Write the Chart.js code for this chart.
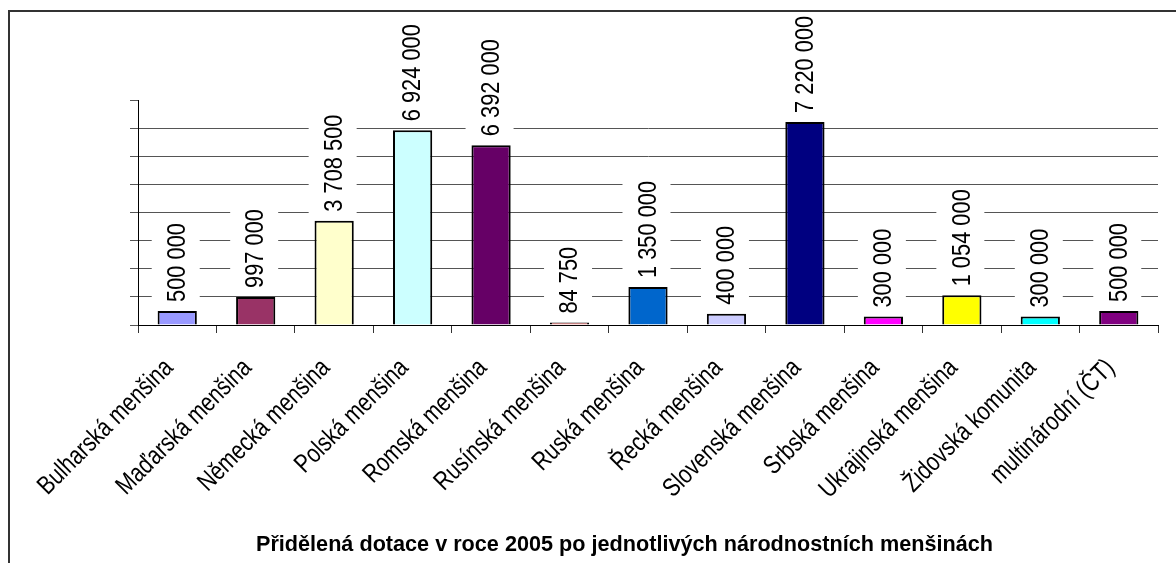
<!DOCTYPE html>
<html lang="cs">
<head>
  <meta charset="UTF-8" />
  <title>Přidělená dotace 2005</title>
  <script src="https://cdn.jsdelivr.net/npm/chart.js"></script>
  <style>
    html, body { margin: 0; padding: 0; background: #fff; }
    .wrap { position: relative; width: 1176px; height: 563px; }
  </style>
</head>
<body>
  <div class="wrap"><canvas id="chart" width="1176" height="563"></canvas></div>

  <script>
    const categories = [
      'Bulharská menšina', 'Maďarská menšina', 'Německá menšina', 'Polská menšina',
      'Romská menšina', 'Rusínská menšina', 'Ruská menšina', 'Řecká menšina',
      'Slovenská menšina', 'Srbská menšina', 'Ukrajinská menšina', 'Židovská komunita',
      'multinárodní (ČT)'
    ];
    const values = [500000, 997000, 3708500, 6924000, 6392000, 84750, 1350000, 400000, 7220000, 300000, 1054000, 300000, 500000];
    const barColors = ['#9999ff', '#993366', '#ffffcc', '#ccffff', '#660066', '#ff8080', '#0066cc', '#ccccff', '#000080', '#ff00ff', '#ffff00', '#00ffff', '#800080'];
    const yMax = 8000000;
    const yStep = 1000000;
    const title = 'Přidělená dotace v roce 2005 po jednotlivých národnostních menšinách';

    const FONT = "'Liberation Sans', Arial, sans-serif";
    const SQUEEZE = 0.84;      // value labels look narrow in the original
    const SQUEEZE_X = 0.81;    // category labels

    function fmt(v) {
      return String(v).replace(/\B(?=(\d{3})+(?!\d))/g, ' ');
    }

    const textPlugin = {
      id: 'textPlugin',
      beforeDraw(chart) {
        // outer frame (left and top edges visible)
        const ctx = chart.ctx;
        ctx.save();
        ctx.strokeStyle = '#333';
        ctx.lineWidth = 2;
        ctx.beginPath();
        ctx.moveTo(9, 570);
        ctx.lineTo(9, 11);
        ctx.lineTo(1180, 11);
        ctx.stroke();
        ctx.restore();
      },
      afterDatasetsDraw(chart) {
        const ctx = chart.ctx;
        const meta = chart.getDatasetMeta(0);
        ctx.save();
        ctx.font = '26px ' + FONT;
        meta.data.forEach((bar, i) => {
          const txt = fmt(values[i]);
          const w = ctx.measureText(txt).width * SQUEEZE;
          ctx.save();
          ctx.translate(bar.x - 1.5, bar.y - 9);
          ctx.rotate(-Math.PI / 2);
          ctx.fillStyle = '#fff';
          ctx.fillRect(-3, -24, w + 6, 48);
          ctx.scale(SQUEEZE, 1);
          ctx.fillStyle = '#000';
          ctx.textAlign = 'left';
          ctx.textBaseline = 'alphabetic';
          ctx.fillText(txt, 0, 9.3);
          ctx.restore();
        });
        ctx.restore();
      },
      afterDraw(chart) {
        const ctx = chart.ctx;
        const x = chart.scales.x;
        ctx.save();
        ctx.font = '26px ' + FONT;
        ctx.fillStyle = '#000';
        categories.forEach((c, i) => {
          const cx = x.getPixelForValue(i);
          ctx.save();
          ctx.translate(cx - 3, 369);
          ctx.rotate(-Math.PI / 4);
          ctx.scale(SQUEEZE_X, 1);
          ctx.textAlign = 'right';
          ctx.textBaseline = 'alphabetic';
          ctx.fillText(c, 0, 0);
          ctx.restore();
        });
        ctx.font = 'bold 22px ' + FONT;
        const tw = ctx.measureText(title).width;
        const s = 737 / tw;
        ctx.save();
        ctx.translate(624.5, 551);
        ctx.scale(s, 1);
        ctx.textAlign = 'center';
        ctx.textBaseline = 'alphabetic';
        ctx.fillText(title, 0, 0);
        ctx.restore();
        ctx.restore();
      }
    };

    new Chart(document.getElementById('chart').getContext('2d'), {
      type: 'bar',
      data: {
        labels: categories,
        datasets: [{
          data: values,
          backgroundColor: barColors,
          borderColor: '#000',
          borderWidth: 2,
          barPercentage: 0.5,
          categoryPercentage: 1
        }]
      },
      options: {
        responsive: false,
        animation: false,
        layout: { padding: { top: 100, right: 18, left: 0, bottom: 0 } },
        plugins: { legend: { display: false }, tooltip: { enabled: false } },
        scales: {
          x: {
            ticks: { display: false },
            grid: { offset: true, drawOnChartArea: false, tickLength: 8, color: '#333' },
            border: { color: '#000', width: 1 },
            afterFit: s => { s.height = 238; }
          },
          y: {
            min: 0,
            max: yMax,
            ticks: { display: false, stepSize: yStep },
            grid: {
              tickLength: 8,
              color: c => (c.tick && c.tick.value === yMax) ? 'rgba(0,0,0,0)' : '#555',
              tickColor: '#555'
            },
            border: { color: '#000', width: 1 },
            afterFit: s => { s.width = 138; }
          }
        }
      },
      plugins: [textPlugin]
    });
  </script>
</body>
</html>
